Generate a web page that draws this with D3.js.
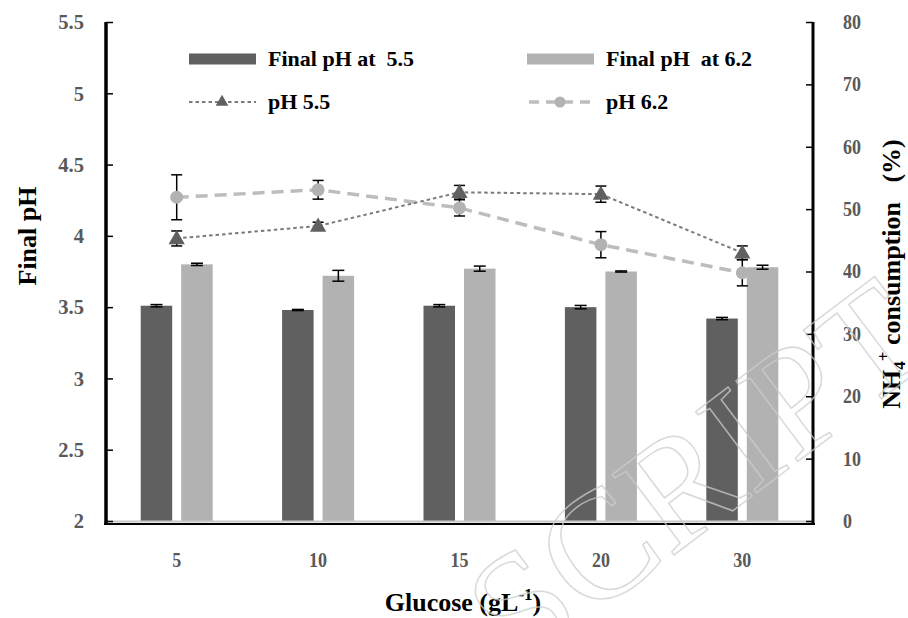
<!DOCTYPE html>
<html><head><meta charset="utf-8">
<script src="https://cdn.jsdelivr.net/npm/d3@7"></script>
<style>
html,body{margin:0;padding:0;background:#fff;}
svg{display:block;}
text{font-family:"Liberation Serif","Times New Roman",serif;font-weight:bold;}
</style></head><body>
<svg id="chart" width="908" height="618"></svg>
<script>
const categories = ["5","10","15","20","30"];
const finalPH55 = [3.51,3.48,3.51,3.50,3.42];
const finalPH55Err = [0.008,0.004,0.008,0.012,0.008];
const finalPH62 = [3.80,3.72,3.77,3.75,3.78];
const finalPH62Err = [0.008,0.038,0.018,0.004,0.014];
const nh4PH55 = [45.3,47.3,52.7,52.4,43.0];
const nh4PH55Err = [1.2,0.6,1.1,1.3,1.1];
const nh4PH62 = [51.9,53.1,50.2,44.3,39.8];
const nh4PH62Err = [3.6,1.5,1.3,2.1,2.1];
const leftTicks = [2,2.5,3,3.5,4,4.5,5,5.5];
const rightTicks = [0,10,20,30,40,50,60,70,80];

const L = 106, R = 813, T = 22, B = 521;
const darkCol = "#606060", lightCol = "#b2b2b2";
const svg = d3.select("#chart");

const x = d3.scaleBand().domain(categories).range([L, R]).paddingInner(0).paddingOuter(0);
const xSub = d3.scaleBand().domain(["a","b"]).range([-36, 36]).paddingInner(0.222).paddingOuter(0);
const yL = d3.scaleLinear().domain([2, 5.5]).range([B, T]);
const yR = d3.scaleLinear().domain([0, 80]).range([B, T]);
const cx = c => x(c) + x.bandwidth() / 2;

// bars
const barData = [
  {key:"a", vals:finalPH55, errs:finalPH55Err, col:darkCol},
  {key:"b", vals:finalPH62, errs:finalPH62Err, col:lightCol}
];
barData.forEach(s => {
  const g = svg.append("g");
  g.selectAll("rect").data(categories).join("rect")
    .attr("x", c => cx(c) + xSub(s.key))
    .attr("width", xSub.bandwidth())
    .attr("y", (c,i) => yL(s.vals[i]))
    .attr("height", (c,i) => yL(2) - yL(s.vals[i]))
    .attr("fill", s.col);
  categories.forEach((c,i) => {
    const mx = cx(c) + xSub(s.key) + xSub.bandwidth()/2;
    const y1 = yL(s.vals[i] + s.errs[i]), y2 = yL(s.vals[i] - s.errs[i]);
    g.append("line").attr("x1",mx).attr("x2",mx).attr("y1",y1).attr("y2",y2).attr("stroke","#000").attr("stroke-width",1.5);
    [y1,y2].forEach(yy => g.append("line").attr("x1",mx-6).attr("x2",mx+6).attr("y1",yy).attr("y2",yy).attr("stroke","#000").attr("stroke-width",1.5));
  });
});

// bottom lines
svg.append("line").attr("x1",L-2).attr("x2",R).attr("y1",B+0.5).attr("y2",B+0.5).attr("stroke","#c8c8c8").attr("stroke-width",2);
svg.append("line").attr("x1",L-2).attr("x2",R+2).attr("y1",B+3).attr("y2",B+3).attr("stroke","#000").attr("stroke-width",2);

// lines
const line = d3.line().x((d,i) => cx(categories[i])).y(d => yR(d));
svg.append("path").datum(nh4PH62).attr("d", line).attr("fill","none")
  .attr("stroke","#bdbdbd").attr("stroke-width",3.5).attr("stroke-dasharray","12,7");
svg.append("path").datum(nh4PH55).attr("d", line).attr("fill","none")
  .attr("stroke","#7a7a7a").attr("stroke-width",2).attr("stroke-dasharray","3.5,3");

function errBars(vals, errs) {
  const g = svg.append("g");
  categories.forEach((c,i) => {
    const mx = cx(c);
    const y1 = yR(vals[i] + errs[i]), y2 = yR(vals[i] - errs[i]);
    g.append("line").attr("x1",mx).attr("x2",mx).attr("y1",y1).attr("y2",y2).attr("stroke","#000").attr("stroke-width",1.5);
    [y1,y2].forEach(yy => g.append("line").attr("x1",mx-5.5).attr("x2",mx+5.5).attr("y1",yy).attr("y2",yy).attr("stroke","#000").attr("stroke-width",1.5));
  });
}
errBars(nh4PH62, nh4PH62Err);
errBars(nh4PH55, nh4PH55Err);

svg.append("g").selectAll("circle").data(nh4PH62).join("circle")
  .attr("cx",(d,i)=>cx(categories[i])).attr("cy",d=>yR(d)).attr("r",6.5).attr("fill",lightCol);
const tri = d3.symbol(d3.symbolTriangle, 115);
svg.append("g").selectAll("path").data(nh4PH55).join("path")
  .attr("d", tri).attr("transform",(d,i)=>`translate(${cx(categories[i])},${yR(d)+1})`).attr("fill",darkCol);

// axes
function condense(sel, sx) {
  sel.selectAll(".tick text").each(function(){
    const t = d3.select(this);
    const tx = +t.attr("x") || 0;
    t.attr("x", null).attr("transform", `translate(${tx},0) scale(${sx},1)`);
  });
}
const axL = svg.append("g").attr("transform",`translate(${L},0)`)
  .call(d3.axisLeft(yL).tickValues(leftTicks).tickFormat(d=>String(d)).tickSizeInner(-7).tickSizeOuter(0).tickPadding(22));
axL.select(".domain").attr("stroke","#000").attr("stroke-width",3.5).attr("d",`M0,${T}V${B+4}`);
axL.selectAll(".tick line").attr("stroke","#000").attr("stroke-width",1.5);
axL.selectAll(".tick text").attr("fill","#595959").attr("font-size",21);
condense(axL, 0.98);

const axR = svg.append("g").attr("transform",`translate(${R},0)`)
  .call(d3.axisRight(yR).tickValues(rightTicks).tickSizeInner(-7).tickSizeOuter(0).tickPadding(30));
axR.select(".domain").attr("stroke","#000").attr("stroke-width",3).attr("d",`M0,${T}V${B+4}`);
axR.selectAll(".tick line").attr("stroke","#000").attr("stroke-width",1.5);
axR.selectAll(".tick text").attr("fill","#595959").attr("font-size",20);
condense(axR, 0.9);

const axB = svg.append("g").attr("transform",`translate(0,${B+3})`)
  .call(d3.axisBottom(x).tickSize(0).tickPadding(0));
axB.select(".domain").remove();
axB.selectAll(".tick text").attr("fill","#595959").attr("font-size",20).attr("dy",null).attr("y",43);
condense(axB, 0.9);

// axis titles
svg.append("text").attr("transform","translate(36,236) rotate(-90)").attr("text-anchor","middle")
  .attr("font-size",26).attr("fill","#000").text("Final pH");
const rt = svg.append("text").attr("transform","translate(900,274) rotate(-90)").attr("text-anchor","middle")
  .attr("font-size",26).attr("fill","#000").style("white-space","pre");
rt.append("tspan").text("NH");
rt.append("tspan").attr("font-size",17).attr("dy",5).text("4");
rt.append("tspan").attr("font-size",17).attr("dy",-16).text("+");
rt.append("tspan").attr("dy",11).text(" consumption   (%)");
const xt = svg.append("text").attr("x",463).attr("y",611).attr("text-anchor","middle")
  .attr("font-size",26).attr("fill","#000");
xt.append("tspan").text("Glucose (gL");
xt.append("tspan").attr("font-size",17).attr("dy",-11).text("-1");
xt.append("tspan").attr("dy",11).text(")");

// legend
const legItems = [
  {type:"bar", col:darkCol, label:"Final pH at  5.5", x:189, y:59},
  {type:"bar", col:lightCol, label:"Final pH  at 6.2", x:527, y:59},
  {type:"tri", label:"pH 5.5", x:189, y:102},
  {type:"cir", label:"pH 6.2", x:527, y:102}
];
legItems.forEach(it => {
  const g = svg.append("g");
  if (it.type === "bar") {
    g.append("rect").attr("x",it.x).attr("y",it.y-5.5).attr("width",67).attr("height",11).attr("fill",it.col);
  } else if (it.type === "tri") {
    g.append("line").attr("x1",it.x).attr("x2",it.x+67).attr("y1",it.y).attr("y2",it.y)
      .attr("stroke","#7a7a7a").attr("stroke-width",2).attr("stroke-dasharray","3.5,3");
    g.append("path").attr("d",d3.symbol(d3.symbolTriangle,70)).attr("transform",`translate(${it.x+33},${it.y})`).attr("fill",darkCol);
  } else {
    g.append("line").attr("x1",it.x).attr("x2",it.x+67).attr("y1",it.y).attr("y2",it.y)
      .attr("stroke","#bdbdbd").attr("stroke-width",3.5).attr("stroke-dasharray","10,7").attr("stroke-dashoffset",-2);
    g.append("circle").attr("cx",it.x+33).attr("cy",it.y).attr("r",5.5).attr("fill",lightCol);
  }
  g.append("text").attr("x",it.x+79).attr("y",it.y+7).attr("font-size",22).attr("fill","#000")
    .style("white-space","pre").text(it.label);
});

// watermark
svg.append("text").attr("transform","translate(938,356) rotate(-37)").attr("text-anchor","end")
  .style("font-weight","normal").attr("font-size",155).attr("fill","none")
  .attr("stroke","#cccccc").attr("stroke-opacity",0.75).attr("stroke-width",1.5)
  .text("SCRIPT");
</script>
</body></html>
